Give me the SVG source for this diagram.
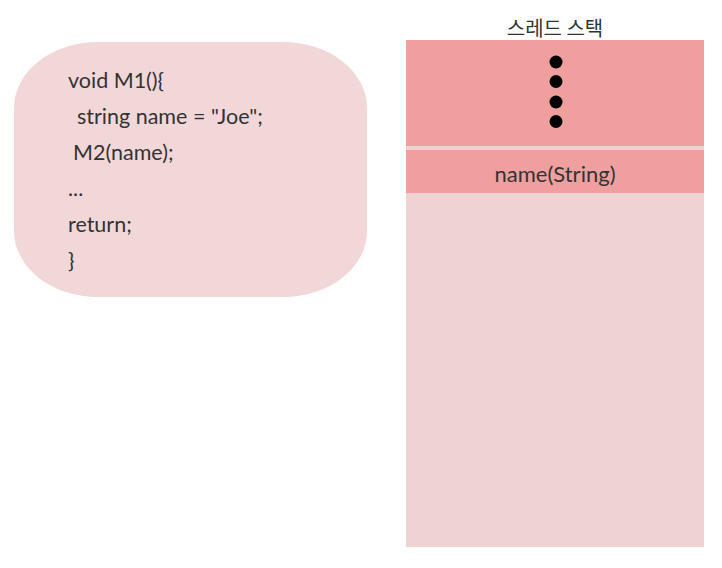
<svg xmlns="http://www.w3.org/2000/svg" width="722" height="568" viewBox="0 0 722 568">
<style>
.code{font-family:"Lato","Noto Sans",sans-serif;font-size:21.5px;fill:#333333}
.lbl{font-family:"Lato","Noto Sans","Noto Sans CJK KR",sans-serif;font-size:22px;fill:#333333}
.dot{fill:#000000}
</style>
<rect width="722" height="568" fill="#ffffff"/>
<g id="code-block">
<rect x="14" y="42" width="353" height="255" rx="84" ry="66" fill="#F2D7D8"/>
<text class="code" x="68" y="88">void M1(){</text>
<text class="code" x="77" y="124">string name = "Joe";</text>
<text class="code" x="73" y="160">M2(name);</text>
<text class="code" x="68" y="196">...</text>
<text class="code" x="68" y="232">return;</text>
<text class="code" x="68" y="268">}</text>
</g>
<g id="thread-stack">
<text x="555" y="36" text-anchor="middle" font-family="'Noto Sans CJK KR',sans-serif" font-size="20" fill="#333333">스레드 스택</text>
<rect x="406" y="40" width="298" height="507" fill="#EFD3D3"/>
</g>
<g id="frame-top">
<rect x="406" y="40" width="298" height="106" fill="#F09F9F"/>
<circle class="dot" cx="556" cy="62" r="6.5"/>
<circle class="dot" cx="556" cy="81.5" r="6.5"/>
<circle class="dot" cx="556" cy="102" r="6.5"/>
<circle class="dot" cx="556" cy="121.5" r="6.5"/>
</g>
<g id="frame-name">
<rect x="406" y="150" width="298" height="43" fill="#F09F9F"/>
<text class="lbl" x="555" y="182" text-anchor="middle">name(String)</text>
</g>
<g id="connectors"></g>
</svg>
